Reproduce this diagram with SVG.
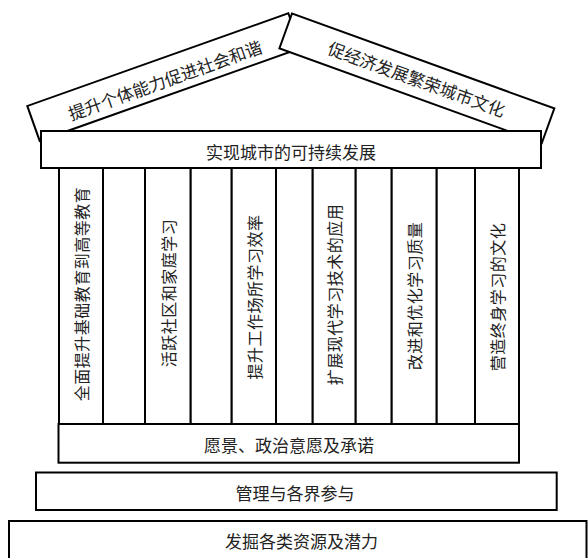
<svg xmlns="http://www.w3.org/2000/svg" width="588" height="558" viewBox="0 0 588 558">
<style>
.box{fill:#fff;stroke:#000;stroke-width:2}
.t{font-family:"Noto Sans CJK SC","Noto Sans",sans-serif;font-size:17px;fill:#222;text-anchor:middle;dominant-baseline:central}
.v{font-family:"Noto Sans CJK SC","Noto Sans",sans-serif;font-size:16px;fill:#222;text-anchor:middle;dominant-baseline:central;letter-spacing:0.5px}
</style>
<rect width="588" height="558" fill="#fff"/>
<g id="roof-left" transform="translate(27.3,106) rotate(-19.55)">
<rect class="box" x="0" y="0" width="277" height="37"/>
<text class="t" x="138.5" y="21">提升个体能力促进社会和谐</text>
</g>
<g id="roof-right" transform="translate(292,13.5) rotate(19.9)">
<rect class="box" x="0" y="0" width="279" height="37"/>
<text class="t" x="139.5" y="18.5">促经济发展繁荣城市文化</text>
</g>
<g id="top">
<rect class="box" x="41" y="131" width="500" height="37"/>
<text class="t" x="291" y="151">实现城市的可持续发展</text>
</g>
<g id="pillars">
<rect class="box" x="59" y="168" width="44" height="256"/>
<rect class="box" x="103" y="168" width="42" height="256"/>
<rect class="box" x="145" y="168" width="45.7" height="256"/>
<rect class="box" x="190.7" y="168" width="41" height="256"/>
<rect class="box" x="231.7" y="168" width="44.3" height="256"/>
<rect class="box" x="276" y="168" width="36.7" height="256"/>
<rect class="box" x="312.7" y="168" width="43" height="256"/>
<rect class="box" x="355.7" y="168" width="36" height="256"/>
<rect class="box" x="391.7" y="168" width="45" height="256"/>
<rect class="box" x="436.7" y="168" width="38.3" height="256"/>
<rect class="box" x="475" y="168" width="44" height="256"/>
</g>
<g id="p1"><text class="v" transform="translate(81,294) rotate(-90)">全面提升基础教育到高等教育</text></g>
<g id="p2"><text class="v" transform="translate(168,293) rotate(-90)">活跃社区和家庭学习</text></g>
<g id="p3"><text class="v" transform="translate(254,297) rotate(-90)">提升工作场所学习效率</text></g>
<g id="p4"><text class="v" transform="translate(334,294.5) rotate(-90)">扩展现代学习技术的应用</text></g>
<g id="p5"><text class="v" transform="translate(414,296) rotate(-90)">改进和优化学习质量</text></g>
<g id="p6"><text class="v" transform="translate(497,297) rotate(-90)">营造终身学习的文化</text></g>
<g id="vision">
<rect class="box" x="58.5" y="424" width="460.5" height="38.7"/>
<text class="t" x="289" y="444.5">愿景、政治意愿及承诺</text>
</g>
<g id="management">
<rect class="box" x="36" y="472.5" width="520.7" height="37.5"/>
<text class="t" x="295" y="492">管理与各界参与</text>
</g>
<g id="resources">
<rect class="box" x="9" y="521" width="577.5" height="45"/>
<text class="t" x="301.5" y="540">发掘各类资源及潜力</text>
</g>
<g id="connectors"></g>
</svg>
